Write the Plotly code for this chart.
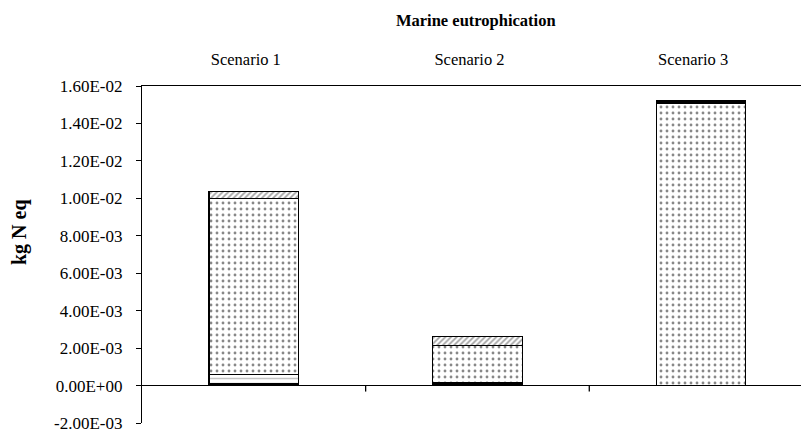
import plotly.graph_objects as go

categories = ["Scenario 1", "Scenario 2", "Scenario 3"]
seg_solid_bottom = [0.00012, 0.00012, 0.0]
seg_lines = [0.00046, 0.00006, 0.0]
seg_dots = [0.0094, 0.00197, 0.01505]
seg_hatch = [0.00038, 0.00048, 0.0]
seg_solid_top = [0.0, 0.0, 0.00015]

y_tickvals = [-0.002, 0.0, 0.002, 0.004, 0.006, 0.008, 0.010, 0.012, 0.014, 0.016]
y_ticktext = ["-2.00E-03", "0.00E+00", "2.00E-03", "4.00E-03", "6.00E-03",
              "8.00E-03", "1.00E-02", "1.20E-02", "1.40E-02", "1.60E-02"]
boundaries = [0.5, 1.5]

FONT = "Liberation Serif"
line = dict(color="black", width=1.3)

fig = go.Figure()
fig.add_bar(x=categories, y=seg_solid_bottom, marker=dict(color="black", line=line), name="a")
fig.add_bar(x=categories, y=seg_lines, marker=dict(color="white", line=line,
            pattern=dict(shape="-", size=5, solidity=0.3, fgcolor="#888", bgcolor="white")), name="b")
fig.add_bar(x=categories, y=seg_dots, marker=dict(color="white", line=line,
            pattern=dict(shape=".", size=6, solidity=0.18, fgcolor="#111", bgcolor="white")), name="c")
fig.add_bar(x=categories, y=seg_hatch, marker=dict(color="white", line=line,
            pattern=dict(shape="/", size=4, solidity=0.45, fgcolor="#444", bgcolor="white")), name="d")
fig.add_bar(x=categories, y=seg_solid_top, marker=dict(color="black", line=line), name="e")

for b in boundaries:
    fig.add_shape(type="line", xref="x", yref="y", ysizemode="pixel", yanchor=0,
                  x0=b, x1=b, y0=0, y1=-6, line=dict(color="black", width=1.3))

fig.add_annotation(text="<b>kg N eq</b>", textangle=-90, xref="paper", yref="paper",
                   x=-0.183, y=0.567, xanchor="center", yanchor="middle", showarrow=False,
                   font=dict(size=20, family=FONT, color="black"))

fig.update_layout(
    barmode="stack",
    bargap=0.6,
    showlegend=False,
    width=801, height=426,
    margin=dict(l=134, r=1, t=78, b=9),
    paper_bgcolor="white", plot_bgcolor="white",
    font=dict(family=FONT, color="black", size=16),
    title=dict(text="<b>Marine eutrophication</b>", x=0.584, xanchor="center",
               y=0.972, yanchor="middle", font=dict(size=16.5, family=FONT)),
)
fig.update_xaxes(side="top", showline=True, linecolor="black", linewidth=1.3,
                 ticks="outside", ticklen=13, tickcolor="rgba(0,0,0,0)",
                 tickfont=dict(size=16.5, family=FONT), ticklabelshift=-8,
                 showgrid=False, zeroline=False, range=[-0.5, 2.478])
fig.update_yaxes(range=[-0.002, 0.016], tickvals=y_tickvals, ticktext=y_ticktext,
                 showline=True, linecolor="black", linewidth=1.3, ticks="outside",
                 ticklen=5, tickcolor="black", tickfont=dict(size=17, family=FONT),
                 ticklabelstandoff=10, ticklabeloverflow="allow",
                 showgrid=False, zeroline=True, zerolinecolor="black", zerolinewidth=1.3)

fig.write_html("out.html")
